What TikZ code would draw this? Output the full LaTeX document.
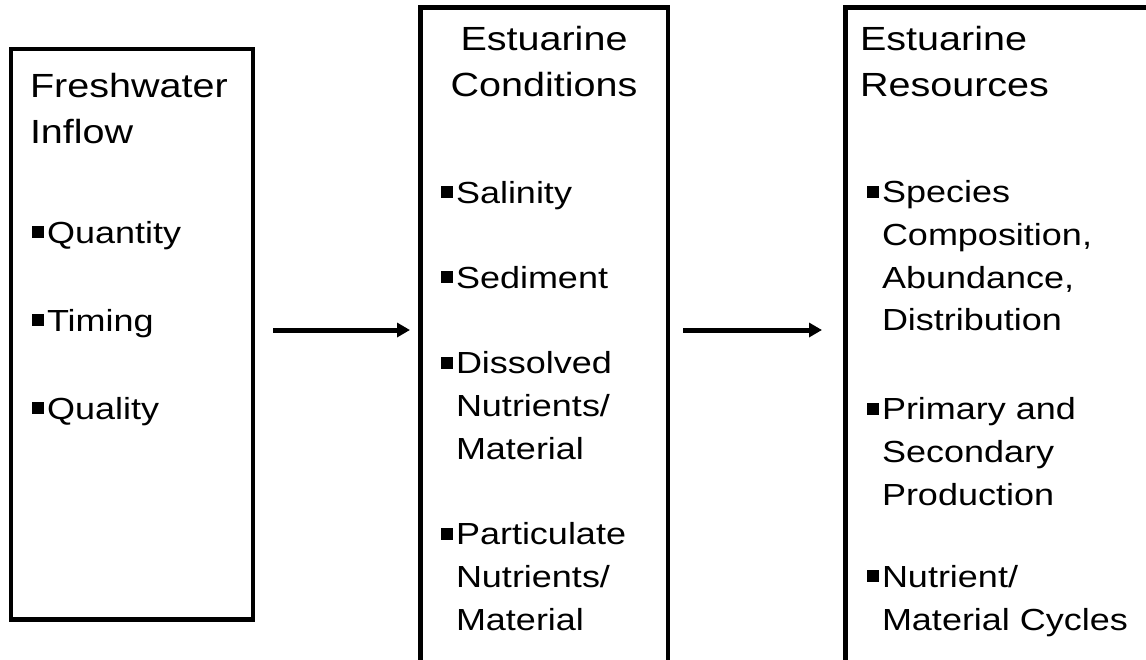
\documentclass[tikz,border=0pt]{standalone}
\usepackage{fontspec}
\setmainfont[FakeStretch=1.18]{Liberation Sans}
\usetikzlibrary{arrows.meta}

\newcommand{\sqbullet}{\rule[5pt]{12pt}{12pt}\hspace{3pt}}
\newcommand{\hang}{\hspace*{15pt}}

\begin{document}
\begin{tikzpicture}[x=1pt,y=-1pt]
    \tikzset{
        every node/.style={inner sep=0pt, outer sep=0pt},
        panel/.style={draw, line width=4.5pt, anchor=north west},
        head/.style={font=\fontsize{33.5}{46}\selectfont, align=left, anchor=base west},
        items/.style={font=\fontsize{30.5}{42.7}\selectfont, align=left, anchor=base west},
        flow/.style={-{Triangle[length=13pt,width=14pt]}, line width=5pt}
    }

    % 1. page frame
    \useasboundingbox (0,0) rectangle (1146,659);
    \clip (0,0) rectangle (1146,659);

    % height of the two arrows
    \coordinate (lane) at (0,330);

    % 2. the three boxes
    \node[panel, minimum width=242pt, minimum height=570.5pt] (inflow) at (11,49) {};
    \node[panel, minimum width=247.5pt, minimum height=700pt] (cond) at (420.5,7.5) {};
    \node[panel, minimum width=400pt, minimum height=700pt] (res) at (845.5,7.5) {};

    % 3. headings (placed by the baseline of their last line)
    \node[head] (inflowhead) at (30,143) {Freshwater\\Inflow};
    \node[head, align=center, anchor=base] (condhead) at (544,96) {Estuarine\\Conditions};
    \node[head] (reshead) at (860,96) {Estuarine\\Resources};

    % 4. bullet lists (same: last baseline)
    \node[items] (inflowlist) at (32,419)
        {\sqbullet Quantity\\[45.3pt]\sqbullet Timing\\[45.3pt]\sqbullet Quality};
    \node[items] (condlist) at (441,630)
        {\sqbullet Salinity\\[42.7pt]\sqbullet Sediment\\[42.7pt]%
         \sqbullet Dissolved\\\hang Nutrients/\\\hang Material\\[42.7pt]%
         \sqbullet Particulate\\\hang Nutrients/\\\hang Material};
    \node[items] (reslist) at (867,630)
        {\sqbullet Species\\\hang Composition,\\\hang Abundance,\\\hang Distribution\\[46.3pt]%
         \sqbullet Primary and\\\hang Secondary\\\hang Production\\[39.3pt]%
         \sqbullet Nutrient/\\\hang Material Cycles};

    % 5. arrows between the boxes
    \draw[flow, shorten <=20pt, shorten >=10.5pt] (inflow.east |- lane) -- (cond.west |- lane);
    \draw[flow, shorten <=15pt, shorten >=23.5pt] (cond.east |- lane) -- (res.west |- lane);
\end{tikzpicture}
\end{document}
